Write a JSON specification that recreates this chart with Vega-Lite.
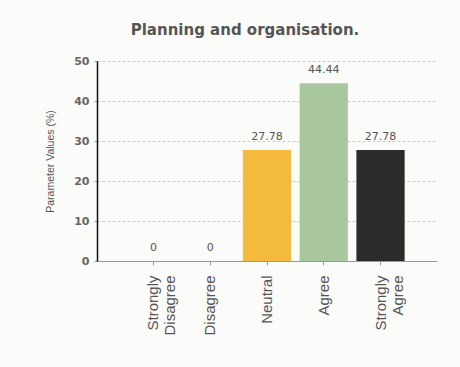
{
  "$schema": "https://vega.github.io/schema/vega-lite/v6.json",
  "width": 340,
  "height": 200,
  "autosize": {"type": "none"},
  "padding": {"left": 97, "top": 61, "right": 23, "bottom": 106},
  "background": "#fbfbfa",
  "title": {
    "text": "Planning and organisation.",
    "font": "DejaVu Sans",
    "fontSize": 15,
    "fontWeight": "bold",
    "color": "#555555",
    "anchor": "middle",
    "dx": -22,
    "offset": 17
  },
  "data": {
    "values": [
      {"category": "Strongly Disagree", "value": 0, "label": "0"},
      {"category": "Disagree", "value": 0, "label": "0"},
      {"category": "Neutral", "value": 27.78, "label": "27.78"},
      {"category": "Agree", "value": 44.44, "label": "44.44"},
      {"category": "Strongly Agree", "value": 27.78, "label": "27.78"}
    ]
  },
  "encoding": {
    "x": {
      "field": "category",
      "type": "nominal",
      "sort": null,
      "scale": {"paddingInner": 0.15, "paddingOuter": 0.57},
      "axis": {
        "title": null,
        "labelAngle": -90,
        "labelExpr": "split(datum.label, ' ')",
        "labelFont": "Liberation Sans",
        "labelFontSize": 15,
        "labelColor": "#555555",
        "labelPadding": 10,
        "labelLineHeight": 17,
        "domainColor": "#999999",
        "tickColor": "#999999",
        "tickSize": 4,
        "grid": false
      }
    },
    "y": {
      "field": "value",
      "type": "quantitative",
      "scale": {"domain": [0, 50]},
      "axis": {
        "title": "Parameter Values (%)",
        "titleFont": "Liberation Sans",
        "titleFontSize": 10.5,
        "titleFontWeight": "normal",
        "titleColor": "#555555",
        "titlePadding": 18,
        "values": [0, 10, 20, 30, 40, 50],
        "labelFont": "DejaVu Sans",
        "labelFontSize": 11,
        "labelFontWeight": "bold",
        "labelColor": "#666666",
        "labelPadding": 5,
        "domainColor": "#111111",
        "domainWidth": 1.5,
        "tickSize": 3,
        "tickColor": "#999999",
        "gridColor": "#cccccc",
        "gridDash": [3, 2]
      }
    }
  },
  "layer": [
    {
      "mark": {"type": "bar"},
      "encoding": {
        "color": {
          "field": "category",
          "type": "nominal",
          "sort": null,
          "scale": {
            "domain": ["Strongly Disagree", "Disagree", "Neutral", "Agree", "Strongly Agree"],
            "range": ["#999999", "#999999", "#F3BA3E", "#A9C79E", "#2B2B2B"]
          },
          "legend": null
        }
      }
    },
    {
      "mark": {"type": "text", "baseline": "bottom", "dy": -8, "font": "DejaVu Sans", "fontSize": 11, "color": "#555555"},
      "encoding": {"text": {"field": "label"}}
    }
  ],
  "config": {"view": {"stroke": null}}
}
